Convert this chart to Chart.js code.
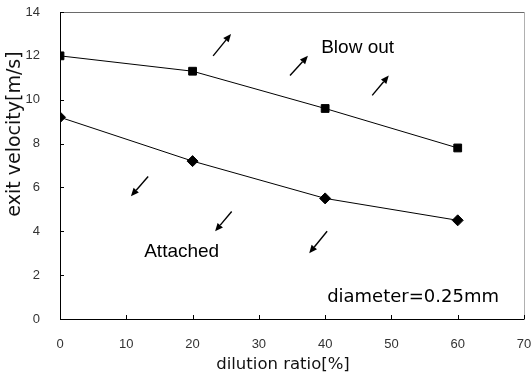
<!DOCTYPE html>
<html>
<head>
<meta charset="utf-8">
<script src="https://cdn.jsdelivr.net/npm/chart.js@4/dist/chart.umd.min.js"></script>
<style>
  html, body { margin: 0; padding: 0; background: #fff; }
</style>
</head>
<body>
<canvas id="myChart" width="532" height="383"></canvas>
<script>
// data
const dilution = [0, 20, 40, 60];
const blowOutVel = [12.0, 11.3, 9.6, 7.8];
const attachedVel = [9.2, 7.2, 5.5, 4.5];
const xTicks = [0, 10, 20, 30, 40, 50, 60, 70];
const yTicks = [0, 2, 4, 6, 8, 10, 12, 14];
const xTitle = 'dilution ratio[%]';
const yTitle = 'exit velocity[m/s]';

// annotations (data units)
const arrowsUp = [[23.1, 12.0, 25.8, 13.0], [34.7, 11.1, 37.4, 12.0], [47.1, 10.2, 49.6, 11.1]];
const arrowsDown = [[13.3, 6.5, 10.7, 5.6], [25.9, 4.9, 23.4, 4.0], [40.3, 4.0, 37.6, 3.0]];
const notes = [
    {text: 'Blow out', x: 39.4, y: 12.35, font: '19px "Liberation Sans", Arial, sans-serif'},
    {text: 'Attached', x: 12.7, y: 3.05, font: '19px "Liberation Sans", Arial, sans-serif'},
    {text: 'diameter=0.25mm', x: 40.3, y: 1.0, font: '18px "DejaVu Sans", sans-serif'}
];

const extras = {
    id: 'extras',
    afterDatasetsDraw(chart) {
        const ctx = chart.ctx, a = chart.chartArea;
        const xs = chart.scales.x, ys = chart.scales.y;
        ctx.save();
        // frame
        ctx.lineWidth = 1;
        ctx.strokeStyle = '#6a6a6a';
        ctx.beginPath();
        ctx.moveTo(a.left, a.top + 0.5);
        ctx.lineTo(a.right + 0.5, a.top + 0.5);
        ctx.stroke();
        ctx.strokeStyle = '#b0b0b0';
        ctx.beginPath();
        ctx.moveTo(a.right + 0.5, a.top);
        ctx.lineTo(a.right + 0.5, a.bottom);
        ctx.stroke();
        ctx.strokeStyle = '#000';
        ctx.beginPath();
        ctx.moveTo(a.left + 0.5, a.top);
        ctx.lineTo(a.left + 0.5, a.bottom + 0.5);
        ctx.lineTo(a.right + 0.5, a.bottom + 0.5);
        ctx.stroke();
        // inner ticks
        ctx.beginPath();
        yTicks.forEach(v => {
            const y = Math.round(ys.getPixelForValue(v)) + 0.5;
            ctx.moveTo(a.left, y);
            ctx.lineTo(a.left + 4, y);
        });
        xTicks.forEach(v => {
            const x = Math.round(xs.getPixelForValue(v)) + 0.5;
            ctx.moveTo(x, a.bottom);
            ctx.lineTo(x, a.bottom - 4);
        });
        ctx.stroke();
        // arrows
        ctx.fillStyle = '#000';
        ctx.lineWidth = 1.4;
        arrowsUp.concat(arrowsDown).forEach(([x0, y0, x1, y1]) => {
            const px0 = xs.getPixelForValue(x0), py0 = ys.getPixelForValue(y0);
            const px1 = xs.getPixelForValue(x1), py1 = ys.getPixelForValue(y1);
            const ang = Math.atan2(py1 - py0, px1 - px0);
            const len = 8, w = 3.5;
            const bx = px1 - len * Math.cos(ang), by = py1 - len * Math.sin(ang);
            ctx.beginPath();
            ctx.moveTo(px0, py0);
            ctx.lineTo(bx, by);
            ctx.stroke();
            ctx.beginPath();
            ctx.moveTo(px1, py1);
            ctx.lineTo(bx + w * Math.sin(ang), by - w * Math.cos(ang));
            ctx.lineTo(bx - w * Math.sin(ang), by + w * Math.cos(ang));
            ctx.closePath();
            ctx.fill();
        });
        // text in the plot
        ctx.textAlign = 'left';
        ctx.textBaseline = 'middle';
        notes.forEach(n => {
            ctx.font = n.font;
            ctx.fillText(n.text, xs.getPixelForValue(n.x), ys.getPixelForValue(n.y));
        });
        // axis titles (the original sits a bit off-centre)
        ctx.fillStyle = '#111';
        ctx.textAlign = 'center';
        ctx.font = '16.5px "DejaVu Sans", sans-serif';
        ctx.fillText(xTitle, 283, 365);
        ctx.translate(15, 134);
        ctx.rotate(-Math.PI / 2);
        ctx.font = '19px "DejaVu Sans", sans-serif';
        ctx.fillText(yTitle, 0, 0);
        ctx.restore();
    }
};

const ctxChart = document.getElementById('myChart');

new Chart(ctxChart, {
    type: 'line',
    data: {
        datasets: [{
            label: 'Blow out',
            data: dilution.map((d, i) => ({x: d, y: blowOutVel[i]})),
            borderColor: '#000',
            backgroundColor: '#000',
            borderWidth: 1,
            pointStyle: 'rect',
            pointRadius: 5.5,
            tension: 0
        }, {
            label: 'Attached',
            data: dilution.map((d, i) => ({x: d, y: attachedVel[i]})),
            borderColor: '#000',
            backgroundColor: '#000',
            borderWidth: 1,
            pointStyle: 'rectRot',
            pointRadius: 5.5,
            tension: 0
        }]
    },
    options: {
        responsive: false,
        animation: false,
        devicePixelRatio: 1,
        layout: {padding: {top: 12, right: 8, left: 0, bottom: 0}},
        plugins: {
            legend: {display: false},
            tooltip: {enabled: false}
        },
        scales: {
            x: {
                type: 'linear',
                min: 0,
                max: 70,
                afterFit: s => { s.height = 64; s.paddingLeft = 0; s.paddingRight = 0; },
                grid: {display: false},
                border: {display: false},
                ticks: {
                    stepSize: 10,
                    padding: 10,
                    color: '#333',
                    font: {family: '"Liberation Sans", Arial, sans-serif', size: 13}
                }
            },
            y: {
                min: 0,
                max: 14,
                afterFit: s => { s.width = 60; s.paddingTop = 0; s.paddingBottom = 0; },
                grid: {display: false},
                border: {display: false},
                ticks: {
                    stepSize: 2,
                    padding: 12,
                    color: '#333',
                    font: {family: '"Liberation Sans", Arial, sans-serif', size: 13}
                }
            }
        }
    },
    plugins: [extras]
});
</script>
</body>
</html>
